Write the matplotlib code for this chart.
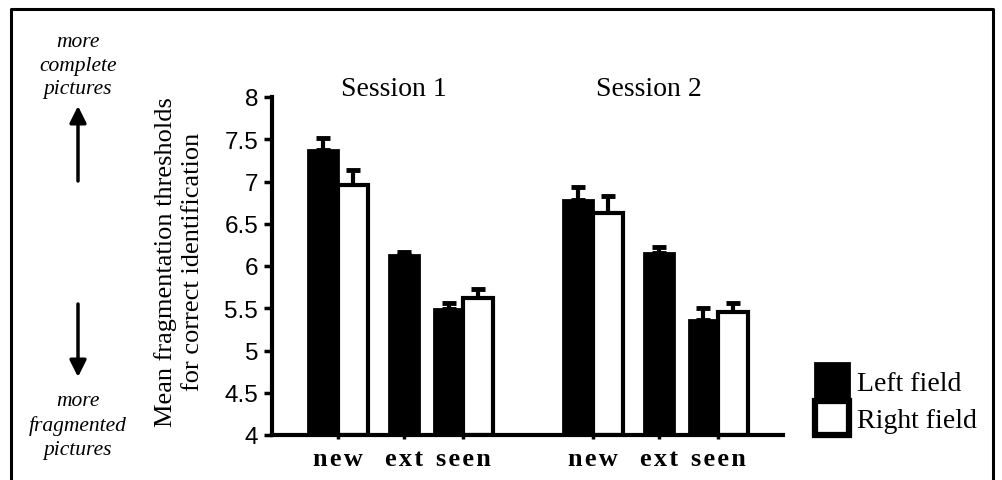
import numpy as np
from matplotlib import pyplot as plt
from matplotlib.lines import Line2D
from matplotlib.patches import Patch
from matplotlib.transforms import ScaledTranslation

# ----------------------------------------------------- #
# data

sessions = ["Session 1", "Session 2"]
conditions = ["new", "ext", "seen"]

# mean thresholds, rows = sessions, cols = conditions (ext has no right field bar)
left_means = [[7.37, 6.13, 5.49],
              [6.78, 6.15, 5.36]]
left_errs = [[0.15, 0.03, 0.07],
             [0.16, 0.07, 0.14]]
right_means = [[6.96, np.nan, 5.62],
               [6.63, np.nan, 5.45]]
right_errs = [[0.18, np.nan, 0.11],
              [0.20, np.nan, 0.11]]

yticks = [4, 4.5, 5, 5.5, 6, 6.5, 7, 7.5, 8]
ytick_labels = ["4", "4.5", "5", "5.5", "6", "6.5", "7", "7.5", "8"]

# ----------------------------------------------------- #

SERIF = ["Liberation Serif", "DejaVu Serif"]
SANS = ["Liberation Sans", "DejaVu Sans"]

W, H = 1003, 481
fig = plt.figure(figsize=(W / 100, H / 100), dpi=100)
ax = fig.add_axes([272 / W, 1 - 436 / H, 511 / W, 338 / H])

cond_pos = np.array([0.0, 1.0, 1.9])
session_offset = 3.86
bar_w = 0.45
err_style = dict(fmt="none", ecolor="black", elinewidth=3, capsize=5,
                 capthick=3.5, zorder=1)

tick_pos = []
for s in range(len(sessions)):
    base = cond_pos + s * session_offset
    for c in range(len(conditions)):
        x = base[c]
        tick_pos.append(x)
        has_right = not np.isnan(right_means[s][c])
        xl = x - bar_w / 2 if has_right else x
        ax.bar(xl, left_means[s][c] - 4, bottom=4, width=bar_w,
               color="black", edgecolor="black", linewidth=2, zorder=2)
        ax.errorbar(xl, left_means[s][c], yerr=[[0], [left_errs[s][c]]],
                    **err_style)
        if has_right:
            xr = x + bar_w / 2
            ax.bar(xr, right_means[s][c] - 4, bottom=4, width=bar_w,
                   color="white", edgecolor="black", linewidth=3, zorder=2)
            ax.errorbar(xr, right_means[s][c], yerr=[[0], [right_errs[s][c]]],
                        **err_style)
    ax.text(base[0] + 0.85, 8.1, sessions[s], ha="center", va="center",
            fontsize=20, family=SERIF, transform=ax.transData, clip_on=False)

ax.set_xlim(-1.0, 6.74)
ax.set_ylim(4, 8)
ax.set_yticks(yticks)
ax.set_yticklabels(ytick_labels, family=SANS, fontsize=17.5)
ax.set_xticks(tick_pos)
spaced = ["\u200a".join(c) for c in conditions]
ax.set_xticklabels(spaced * len(sessions), family=SERIF, fontsize=19,
                   fontweight="bold")
# labels sit a touch right of their ticks in the original
shift = ScaledTranslation(5 / 100, 0, fig.dpi_scale_trans)
for lab in ax.get_xticklabels():
    lab.set_transform(lab.get_transform() + shift)

for side in ["top", "right"]:
    ax.spines[side].set_visible(False)
for side in ["left", "bottom"]:
    ax.spines[side].set_linewidth(3)
ax.tick_params(axis="y", direction="out", length=6, width=2.5, pad=4)
ax.tick_params(axis="x", direction="out", length=3, width=2.5, pad=6)

fig.text(179 / W, 1 - 262 / H,
         "Mean fragmentation thresholds\nfor correct identification",
         rotation=90, ha="center", va="center", multialignment="center",
         fontsize=19, family=SERIF, linespacing=1.3)

# legend
handles = [Patch(facecolor="black", edgecolor="black", linewidth=2),
           Patch(facecolor="white", edgecolor="black", linewidth=4.5)]
fig.legend(handles, ["Left field", "Right field"], loc="upper left",
           bbox_to_anchor=(815 / W, 1 - 364 / H), frameon=False,
           prop={"family": SERIF, "size": 20}, handlelength=1.22,
           handleheight=1.55, handletextpad=0.3, labelspacing=0.1,
           borderpad=0, borderaxespad=0)

# side annotations
fig.text(78 / W, 1 - 66 / H, "more\ncomplete\npictures", ha="center",
         va="center", fontsize=15.5, family=SERIF, style="italic",
         linespacing=1.35)
fig.text(78 / W, 1 - 426 / H, "more\nfragmented\npictures", ha="center",
         va="center", fontsize=15.5, family=SERIF, style="italic",
         linespacing=1.35)
arrow = dict(arrowstyle="-|>", lw=2.5, color="black", mutation_scale=25,
             shrinkA=0, shrinkB=0)
ax.annotate("", xy=(78 / W, 1 - 107 / H), xytext=(78 / W, 1 - 182 / H),
            xycoords="figure fraction", textcoords="figure fraction",
            arrowprops=arrow, annotation_clip=False)
ax.annotate("", xy=(78 / W, 1 - 378 / H), xytext=(78 / W, 1 - 305 / H),
            xycoords="figure fraction", textcoords="figure fraction",
            arrowprops=arrow, annotation_clip=False)

# outer frame (open at the bottom)
fig.add_artist(Line2D([11.5 / W, 11.5 / W, 993.5 / W, 993.5 / W],
                      [-0.05, 1 - 9.5 / H, 1 - 9.5 / H, -0.05],
                      transform=fig.transFigure, color="black", linewidth=2.2))

fig.savefig("out.png", dpi=100)
